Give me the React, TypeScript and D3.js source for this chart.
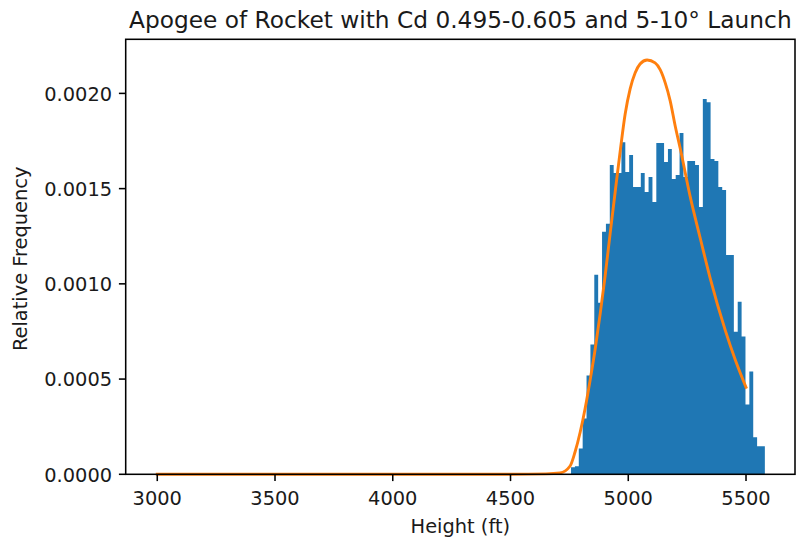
import React from "react";
import * as d3 from "d3";

// Histogram (density) of apogee heights: 50 equal bins
const binStart = 4757;
const binWidth = 16.46;
const densities = [
  0.0000367, 0.0000419, 0.000136, 0.000293, 0.000519, 0.000681, 0.001048, 0.000901, 0.001273, 0.001315,
  0.001624, 0.001582, 0.001582, 0.001744, 0.001587, 0.001676, 0.001509, 0.001509, 0.001582, 0.001482,
  0.001561, 0.00143, 0.001739, 0.001739, 0.00164, 0.001708, 0.001551, 0.001572, 0.001792, 0.001561,
  0.001645, 0.001645, 0.001624, 0.001404, 0.00197, 0.001954, 0.001655, 0.001645, 0.001509, 0.001493,
  0.001152, 0.001152, 0.000749, 0.000906, 0.000723, 0.000367, 0.00054, 0.000194, 0.000147, 0.000147,
];

// Fitted distribution curve
const curveX = [
  3000, 4500, 4650, 4710, 4753, 4774, 4796, 4817, 4838, 4860, 4881, 4902, 4923, 4945, 4966, 4987,
  5008, 5029, 5050, 5080, 5114, 5136, 5157, 5178, 5200, 5221, 5263, 5306, 5348, 5412, 5455, 5500,
];
const curveY = [
  0, 0, 0.000002, 0.0000068, 0.0000435, 0.000117, 0.000222, 0.000347, 0.000494, 0.000662, 0.000845,
  0.001044, 0.001264, 0.001489, 0.001699, 0.001893, 0.002024, 0.002107, 0.002154, 0.002175, 0.00216,
  0.002123, 0.002055, 0.001961, 0.001825, 0.001709, 0.001458, 0.001238, 0.001029, 0.000756, 0.000599,
  0.000457,
];

const xTicks = [3000, 3500, 4000, 4500, 5000, 5500];
const yTicks = [0, 0.0005, 0.001, 0.0015, 0.002];

const titleText = "Apogee of Rocket with Cd 0.495-0.605 and 5-10° Launch";
const xLabel = "Height (ft)";
const yLabel = "Relative Frequency";

export default function App() {
  const W = 804, H = 540;
  const left = 125.7, right = 795, top = 39.3, bottom = 474.3;
  const x = d3.scaleLinear().domain([2866, 5708]).range([left, right]);
  const y = d3.scaleLinear().domain([0, 0.002284]).range([bottom, top]);
  const font = "'DejaVu Sans', sans-serif";
  const fs = 19.4;
  const tickLen = 6.8;
  const textColor = "#1a1a1a";

  const line = d3
    .line<number>()
    .x((_, i) => x(curveX[i]))
    .y((d) => y(d))
    .curve(d3.curveMonotoneX);

  // step outline of the histogram bars (one bar per bin)
  const stepData = [...densities, densities[densities.length - 1]];
  const histArea = d3
    .area<number>()
    .x((_, i) => x(binStart + i * binWidth))
    .y0(y(0))
    .y1((d) => y(d))
    .curve(d3.curveStepAfter);

  return (
    <svg
      width={W}
      height={H}
      style={{ position: "absolute", left: 0, top: 0, background: "#fff" }}
      fontFamily={font}
    >
      <rect x={0} y={0} width={W} height={H} fill="#fff" />
      <path d={histArea(stepData) || ""} fill="#1f77b4" />
      <path d={line(curveY) || ""} fill="none" stroke="#ff7f0e" strokeWidth={2.9} strokeLinecap="square" />
      {/* spines */}
      <rect x={left} y={top} width={right - left} height={bottom - top} fill="none" stroke="#000" strokeWidth={1.55} />
      {/* x ticks */}
      {xTicks.map((t) => (
        <g key={t}>
          <line x1={x(t)} x2={x(t)} y1={bottom} y2={bottom + tickLen} stroke="#000" strokeWidth={1.55} />
          <text x={x(t)} y={504.5} textAnchor="middle" fontSize={fs} fill={textColor}>
            {t}
          </text>
        </g>
      ))}
      {/* y ticks */}
      {yTicks.map((t) => (
        <g key={t}>
          <line x1={left - tickLen} x2={left} y1={y(t)} y2={y(t)} stroke="#000" strokeWidth={1.55} />
          <text x={left - tickLen - 6.8} y={y(t) + 7.3} textAnchor="end" fontSize={fs} fill={textColor}>
            {t.toFixed(4)}
          </text>
        </g>
      ))}
      <text x={(left + right) / 2} y={533} textAnchor="middle" fontSize={fs} fill={textColor}>
        {xLabel}
      </text>
      <text
        transform={`translate(26.5, ${(top + bottom) / 2 + 2}) rotate(-90)`}
        textAnchor="middle"
        fontSize={fs}
        fill={textColor}
      >
        {yLabel}
      </text>
      <text x={(left + right) / 2} y={28} textAnchor="middle" fontSize={fs * 1.2} fill={textColor}>
        {titleText}
      </text>
    </svg>
  );
}
